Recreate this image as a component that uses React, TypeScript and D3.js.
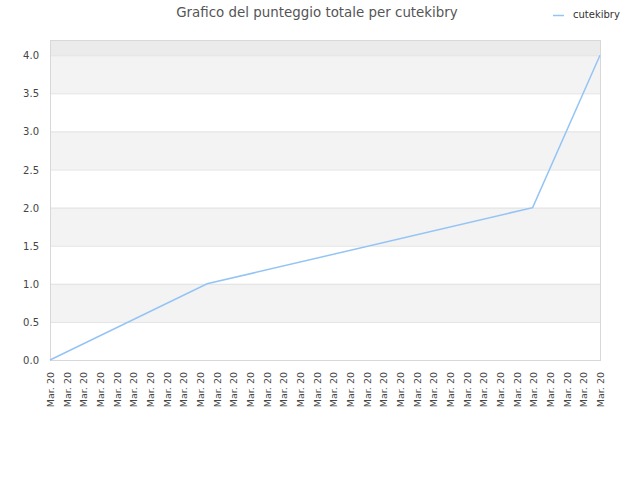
import { useEffect, useRef } from 'react';
import * as d3 from 'd3';

// x labels (34 ticks, all the same date)
const xLabels: string[] = Array.from({ length: 34 }, () => 'Mar. 20');

// line points: position along the x range (0..49) and cumulative score
const pointPos = [0, 14, 43, 49];
const pointScore = [0, 1, 2, 4];
const posMax = 49;

const yTicks = [0, 0.5, 1, 1.5, 2, 2.5, 3, 3.5, 4];
const seriesName = 'cutekibry';
const title = 'Grafico del punteggio totale per cutekibry';

export default function App() {
	const ref = useRef<SVGSVGElement | null>(null);

	useEffect(() => {
		if (!ref.current) return;
		const svg = d3.select(ref.current);
		svg.selectAll('*').remove();

		const left = 50;
		const right = 600;
		const top = 40;
		const bottom = 360;
		const font = 'DejaVu Sans, Verdana, sans-serif';

		const y = d3.scaleLinear().domain([0, 4.2]).range([bottom, top]);
		const xLine = d3.scaleLinear().domain([0, posMax]).range([left, right]);
		const xTick = d3
			.scalePoint<number>()
			.domain(xLabels.map((_, i) => i))
			.range([left, right]);

		// top band above last tick
		svg
			.append('rect')
			.attr('x', left)
			.attr('y', y(4.2))
			.attr('width', right - left)
			.attr('height', y(4) - y(4.2))
			.attr('fill', '#ebebeb');

		// alternating bands
		for (let i = 0; i < yTicks.length - 1; i++) {
			if (i % 2 === 1) {
				svg
					.append('rect')
					.attr('x', left)
					.attr('y', y(yTicks[i + 1]))
					.attr('width', right - left)
					.attr('height', y(yTicks[i]) - y(yTicks[i + 1]))
					.attr('fill', '#f3f3f3');
			}
		}

		// grid lines
		svg
			.append('g')
			.selectAll('line')
			.data(yTicks)
			.join('line')
			.attr('x1', left)
			.attr('x2', right)
			.attr('y1', d => y(d) + 0.5)
			.attr('y2', d => y(d) + 0.5)
			.attr('stroke', '#e2e2e2');

		// frame
		svg
			.append('rect')
			.attr('x', left + 0.5)
			.attr('y', y(4.2) + 0.5)
			.attr('width', right - left)
			.attr('height', bottom - y(4.2))
			.attr('fill', 'none')
			.attr('stroke', '#d8d8d8');

		// y labels
		svg
			.append('g')
			.selectAll('text')
			.data(yTicks)
			.join('text')
			.attr('x', 39)
			.attr('y', d => y(d) + 4)
			.attr('text-anchor', 'end')
			.attr('font-family', font)
			.attr('font-size', 10)
			.attr('fill', '#444')
			.text(d => d.toFixed(1));

		// x labels
		svg
			.append('g')
			.selectAll('text')
			.data(xLabels.map((l, i) => ({ l, i })))
			.join('text')
			.attr('transform', d => `translate(${(xTick(d.i) ?? 0) + 4},372) rotate(-90)`)
			.attr('text-anchor', 'end')
			.attr('font-family', font)
			.attr('font-size', 9.5)
			.attr('fill', '#444')
			.text(d => d.l);

		// line
		const line = d3
			.line<number>()
			.x((_, i) => xLine(pointPos[i]))
			.y(d => y(d));

		svg
			.append('path')
			.datum(pointScore)
			.attr('fill', 'none')
			.attr('stroke', '#94c4f5')
			.attr('stroke-width', 1.5)
			.attr('d', line);

		// title
		svg
			.append('text')
			.attr('x', 317)
			.attr('y', 17)
			.attr('text-anchor', 'middle')
			.attr('font-family', font)
			.attr('font-size', 13.4)
			.attr('fill', '#555')
			.text(title);

		// legend
		svg
			.append('line')
			.attr('x1', 553)
			.attr('x2', 564)
			.attr('y1', 15.5)
			.attr('y2', 15.5)
			.attr('stroke', '#94c4f5')
			.attr('stroke-width', 1.5);
		svg
			.append('text')
			.attr('x', 573)
			.attr('y', 18)
			.attr('font-family', font)
			.attr('font-size', 10)
			.attr('fill', '#333')
			.text(seriesName);
	}, []);

	return (
		<svg
			ref={ref}
			width={640}
			height={480}
			style={{ position: 'absolute', left: 0, top: 0 }}
		/>
	);
}
